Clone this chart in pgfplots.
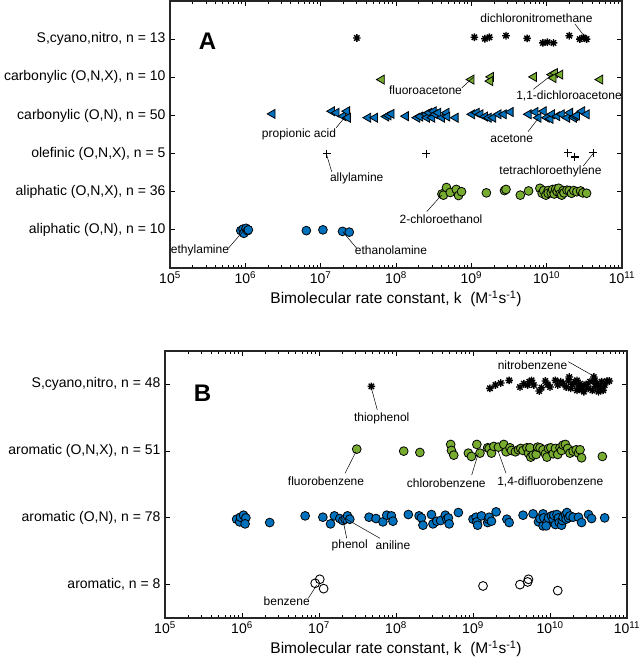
\documentclass[border=0pt]{standalone}
\usepackage{pgfplots}
\pgfplotsset{compat=1.18}
\usepackage{pgfplotstable}
\usepackage{fontspec}
\setmainfont{Liberation Sans}
\definecolor{mblue}{HTML}{0072BD}
\definecolor{mgreen}{HTML}{77AC30}
\definecolor{axgray}{HTML}{262626}

% eight-ray star like matlab's '*'
\pgfdeclareplotmark{mstar}{%
  \pgfpathmoveto{\pgfqpoint{-\pgfplotmarksize}{0pt}}\pgfpathlineto{\pgfqpoint{\pgfplotmarksize}{0pt}}%
  \pgfpathmoveto{\pgfqpoint{0pt}{-\pgfplotmarksize}}\pgfpathlineto{\pgfqpoint{0pt}{\pgfplotmarksize}}%
  \pgfpathmoveto{\pgfqpoint{-0.707\pgfplotmarksize}{-0.707\pgfplotmarksize}}\pgfpathlineto{\pgfqpoint{0.707\pgfplotmarksize}{0.707\pgfplotmarksize}}%
  \pgfpathmoveto{\pgfqpoint{-0.707\pgfplotmarksize}{0.707\pgfplotmarksize}}\pgfpathlineto{\pgfqpoint{0.707\pgfplotmarksize}{-0.707\pgfplotmarksize}}%
  \pgfusepathqstroke}

% log10(k) and category position (with jitter)
\pgfplotstableread{
lk c
7.48 6.03
9.04 6.05
9.18 6.01
9.24 6.05
9.46 6.09
9.74 6.02
9.95 5.90
10.01 5.92
10.09 5.90
10.30 6.09
10.44 6.00
10.49 6.04
10.53 6.00
}\Ascn
\pgfplotstableread{
lk c
7.81 4.94
9.00 4.94
9.26 5.01
9.25 4.90
9.83 5.01
10.07 5.07
10.11 5.11
10.09 4.98
10.18 5.07
10.71 4.94
}\Acnx
\pgfplotstableread{
lk c
6.36 4.04
7.15 4.11
7.21 4.07
7.30 3.98
7.35 4.11
7.36 3.94
7.63 3.94
7.72 3.94
7.87 3.97
7.90 4.00
7.94 4.04
8.13 3.98
8.28 3.94
8.32 3.97
8.40 4.03
8.41 3.94
8.44 4.07
8.48 3.94
8.50 4.11
8.52 4.03
8.56 4.07
8.61 3.94
8.67 4.07
8.68 3.97
8.79 3.94
9.01 4.03
9.07 4.07
9.12 4.03
9.18 3.97
9.23 3.94
9.29 3.94
9.36 4.03
9.43 4.03
9.52 4.09
9.76 4.03
9.85 4.09
9.89 3.94
9.96 4.11
10.00 3.94
10.05 3.91
10.07 4.03
10.14 3.98
10.20 4.03
10.27 3.94
10.31 4.07
10.36 3.94
10.38 3.98
10.40 4.00
10.47 4.11
10.53 4.03
}\Acn
\pgfplotstableread{
lk c
7.08 3.00
8.40 3.00
10.28 3.02
10.37 2.91
10.62 3.02
}\Aole
\pgfplotstableread{
lk c
8.61 1.94
8.63 1.91
8.67 2.11
8.72 1.98
8.80 2.06
8.83 1.90
8.87 2.00
9.20 1.97
9.44 2.03
9.46 2.06
9.65 1.91
9.76 2.02
9.91 2.09
9.94 1.96
9.96 2.03
9.99 1.91
10.02 2.03
10.02 1.96
10.06 1.97
10.08 2.06
10.10 1.94
10.12 2.07
10.14 2.00
10.16 2.09
10.18 1.94
10.20 1.91
10.22 2.03
10.23 1.97
10.27 2.04
10.30 2.03
10.33 1.96
10.36 2.03
10.40 2.00
10.45 2.02
10.48 1.97
10.53 1.96
}\Aanx
\pgfplotstableread{
lk c
5.94 0.98
5.97 1.02
5.98 0.91
6.01 1.04
6.03 0.98
6.04 1.00
6.81 0.98
7.03 1.00
7.29 0.96
7.38 0.94
}\Aan
\pgfplotstableread{
lk c
7.68 3.97
9.22 3.94
9.29 3.99
9.36 4.02
9.47 4.06
9.61 3.96
9.66 4.01
9.71 3.99
9.73 4.04
9.76 4.06
9.79 3.99
9.86 3.90
9.89 3.95
9.94 4.05
9.97 4.00
10.00 3.96
10.07 4.06
10.10 3.99
10.14 4.04
10.17 4.01
10.21 3.96
10.24 4.05
10.25 4.11
10.27 3.94
10.29 4.00
10.33 4.04
10.35 4.06
10.35 3.91
10.37 3.96
10.39 4.01
10.41 3.92
10.43 3.97
10.44 3.89
10.47 4.00
10.50 3.94
10.52 4.04
10.55 3.91
10.57 4.11
10.58 4.06
10.59 3.97
10.61 4.01
10.63 3.89
10.65 3.95
10.67 4.04
10.69 3.91
10.71 3.99
10.74 4.05
10.77 4.05
}\Bscn
\pgfplotstableread{
lk c
7.49 3.03
8.10 3.00
8.31 2.98
8.71 3.10
8.72 3.01
8.75 2.94
8.94 2.97
8.98 2.92
9.05 3.10
9.09 2.97
9.19 3.05
9.21 3.04
9.24 2.97
9.27 3.07
9.33 3.06
9.40 3.10
9.43 2.99
9.48 3.05
9.50 3.01
9.55 2.99
9.59 3.02
9.62 3.04
9.65 3.01
9.70 3.05
9.72 2.97
9.74 3.05
9.75 2.91
9.78 2.94
9.82 2.95
9.84 3.06
9.87 3.05
9.91 3.02
9.94 2.96
9.96 2.91
9.98 3.04
10.01 3.05
10.04 2.96
10.07 3.04
10.10 2.95
10.13 3.05
10.15 3.01
10.17 3.09
10.20 3.10
10.23 3.04
10.26 2.97
10.30 3.00
10.34 3.02
10.37 2.97
10.39 3.02
10.41 2.90
10.68 2.92
}\Banx
\pgfplotstableread{
lk c
5.93 1.98
5.97 1.94
5.98 2.01
6.02 2.04
6.05 2.00
6.04 1.91
6.36 1.93
6.82 2.03
7.05 2.01
7.15 1.91
7.20 2.03
7.27 1.99
7.31 1.96
7.34 1.98
7.37 2.03
7.40 1.98
7.65 2.01
7.74 1.99
7.83 1.94
7.88 2.04
7.94 2.03
7.96 1.95
8.16 2.05
8.30 2.03
8.33 2.00
8.35 1.89
8.46 2.05
8.48 1.91
8.53 1.95
8.58 1.96
8.64 2.04
8.66 1.98
8.68 2.00
8.69 1.91
8.81 2.08
9.00 1.98
9.04 2.01
9.05 1.94
9.06 1.89
9.11 2.03
9.19 1.93
9.20 1.98
9.21 2.01
9.24 1.95
9.30 2.09
9.44 1.98
9.47 1.93
9.65 2.04
9.78 2.06
9.85 1.94
9.87 1.99
9.91 2.06
9.91 1.88
9.92 2.00
9.96 1.93
9.95 1.88
9.98 2.00
10.02 2.03
10.04 1.98
10.05 2.04
10.07 1.90
10.09 2.05
10.11 2.00
10.12 1.93
10.15 1.89
10.16 1.96
10.17 2.01
10.20 2.05
10.21 1.98
10.22 2.08
10.24 2.00
10.26 2.03
10.30 2.01
10.37 2.01
10.41 1.93
10.50 2.05
10.54 1.99
10.71 2.00
}\Ban
\pgfplotstableread{
lk c
6.95 1.02
7.01 1.08
7.06 0.94
9.13 0.98
9.61 1.00
9.71 1.04
9.72 1.08
10.10 0.91
}\Baro

\begin{document}
\begin{tikzpicture}[
  ann/.style={font=\fontsize{12}{13}\selectfont, inner sep=0pt, text=black},
  lead/.style={line width=0.5pt, black},
  panel/.style={font=\fontsize{24}{24}\selectfont\bfseries, inner sep=0pt}]
\path[use as bounding box] (0,0) rectangle (641pt,671pt);

% ---- panel A ----
\begin{axis}[
  scale only axis, at={(170pt,403pt)}, anchor=south west,
  width=452pt, height=267pt,
  xmode=log, xmin=1e5, xmax=1e11,
  xtick={1e5,1e6,1e7,1e8,1e9,1e10,1e11},
  xticklabels={10\textsuperscript{5},10\textsuperscript{6},10\textsuperscript{7},10\textsuperscript{8},10\textsuperscript{9},10\textsuperscript{10},10\textsuperscript{11}},
  ymin=0, ymax=7, ytick={1,2,3,4,5,6},
  yticklabels={{aliphatic (O,N), n = 10},{aliphatic (O,N,X), n = 36},{olefinic (O,N,X), n = 5},{carbonylic (O,N), n = 50},{carbonylic (O,N,X), n = 10},{S,cyano,nitro, n = 13}},
  axis line style={axgray, line width=1.6pt},
  tick style={black, line width=0.8pt},
  major tick length=5pt, minor tick length=3pt, tick align=inside,
  ticklabel style={font=\fontsize{14}{15}\selectfont},
  yticklabel style={xshift=-1pt},
  xlabel={Bimolecular rate constant, k\ \ (M\textsuperscript{-1}s\textsuperscript{-1})},
  xlabel style={font=\fontsize{15.5}{16}\selectfont},
  clip=false]
  \addplot[only marks, black, mark=*, mark size=4.4pt, mark options={fill=mblue, line width=0.8pt}] table[x expr=10^\thisrow{lk}, y=c]{\Aan};
  \addplot[only marks, black, mark=*, mark size=4.4pt, mark options={fill=mgreen, line width=0.8pt}] table[x expr=10^\thisrow{lk}, y=c]{\Aanx};
  \addplot[only marks, black, mark=+, mark size=4pt, mark options={line width=1.1pt}] table[x expr=10^\thisrow{lk}, y=c]{\Aole};
  \addplot[only marks, black, mark=triangle*, mark size=5.2pt, mark options={rotate=90, fill=mblue, line width=0.8pt}] table[x expr=10^\thisrow{lk}, y=c]{\Acn};
  \addplot[only marks, black, mark=triangle*, mark size=5.2pt, mark options={rotate=90, fill=mgreen, line width=0.8pt}] table[x expr=10^\thisrow{lk}, y=c]{\Acnx};
  \addplot[only marks, black, mark=mstar, mark size=3.8pt, mark options={line width=1.4pt}] table[x expr=10^\thisrow{lk}, y=c]{\Ascn};
\end{axis}
\node[panel] at (207.5pt,629.5pt) {A};
\node[ann] at (536.5pt,653pt) {dichloronitromethane};
\draw[lead] (575pt,647pt) -- (585pt,634pt);
\node[ann] at (425.5pt,580.3pt) {fluoroacetone};
\draw[lead] (461.7pt,583pt) -- (473.3pt,593.7pt);
\node[ann] at (569pt,575.3pt) {1,1-dichloroacetone};
\draw[lead] (533.3pt,581.7pt) -- (551.7pt,596pt);
\node[ann] at (299pt,537pt) {propionic acid};
\draw[lead] (336pt,543pt) -- (345pt,554pt);
\node[ann] at (511.7pt,532.7pt) {acetone};
\draw[lead] (528pt,539.3pt) -- (538.3pt,552.7pt);
\node[ann] at (356.7pt,492.7pt) {allylamine};
\draw[lead] (331.7pt,499.3pt) -- (326.7pt,516pt);
\node[ann] at (550.5pt,499.3pt) {tetrachloroethylene};
\draw[lead] (583.3pt,505pt) -- (593.3pt,517.7pt);
\node[ann] at (441pt,451.7pt) {2-chloroethanol};
\draw[lead] (426.7pt,459.3pt) -- (441.7pt,476pt);
\node[ann] at (200pt,421pt) {ethylamine};
\draw[lead] (228.3pt,422.7pt) -- (242.7pt,439.3pt);
\node[ann] at (391pt,420.3pt) {ethanolamine};
\draw[lead] (356.7pt,422.7pt) -- (342.7pt,439.3pt);

% ---- panel B ----
\begin{axis}[
  scale only axis, at={(165pt,53pt)}, anchor=south west,
  width=462pt, height=267pt,
  xmode=log, xmin=1e5, xmax=1e11,
  xtick={1e5,1e6,1e7,1e8,1e9,1e10,1e11},
  xticklabels={10\textsuperscript{5},10\textsuperscript{6},10\textsuperscript{7},10\textsuperscript{8},10\textsuperscript{9},10\textsuperscript{10},10\textsuperscript{11}},
  ymin=0.5, ymax=4.5, ytick={1,2,3,4},
  yticklabels={{aromatic, n = 8},{aromatic (O,N), n = 78},{aromatic (O,N,X), n = 51},{S,cyano,nitro, n = 48}},
  axis line style={axgray, line width=1.6pt},
  tick style={black, line width=0.8pt},
  major tick length=5pt, minor tick length=3pt, tick align=inside,
  ticklabel style={font=\fontsize{14}{15}\selectfont},
  yticklabel style={xshift=-1pt},
  xlabel={Bimolecular rate constant, k\ \ (M\textsuperscript{-1}s\textsuperscript{-1})},
  xlabel style={font=\fontsize{15.5}{16}\selectfont},
  clip=false]
  \addplot[only marks, black, mark=o, mark size=4.4pt, mark options={line width=0.9pt}] table[x expr=10^\thisrow{lk}, y=c]{\Baro};
  \addplot[only marks, black, mark=*, mark size=4.4pt, mark options={fill=mblue, line width=0.8pt}] table[x expr=10^\thisrow{lk}, y=c]{\Ban};
  \addplot[only marks, black, mark=*, mark size=4.4pt, mark options={fill=mgreen, line width=0.8pt}] table[x expr=10^\thisrow{lk}, y=c]{\Banx};
  \addplot[only marks, black, mark=mstar, mark size=3.8pt, mark options={line width=1.4pt}] table[x expr=10^\thisrow{lk}, y=c]{\Bscn};
\end{axis}
\node[panel] at (202.5pt,277.5pt) {B};
\node[ann] at (381.7pt,252.7pt) {thiophenol};
\draw[lead] (377.3pt,261pt) -- (371pt,284.3pt);
\node[ann] at (532.5pt,306pt) {nitrobenzene};
\draw[lead] (568.3pt,309.3pt) -- (591.7pt,296pt);
\node[ann] at (326pt,189.3pt) {fluorobenzene};
\draw[lead] (345pt,197.7pt) -- (356pt,219.3pt);
\node[ann] at (446.3pt,187.7pt) {chlorobenzene};
\draw[lead] (471.7pt,196pt) -- (478.3pt,217.7pt);
\node[ann] at (550.3pt,189.3pt) {1,4-difluorobenzene};
\draw[lead] (506pt,197.7pt) -- (498.3pt,219.3pt);
\node[ann] at (349.7pt,125.3pt) {phenol};
\draw[lead] (346.7pt,132.7pt) -- (342.7pt,152.7pt);
\node[ann] at (393pt,125.3pt) {aniline};
\draw[lead] (380pt,132.7pt) -- (345pt,152.7pt);
\node[ann] at (286.7pt,69.3pt) {benzene};
\draw[lead] (308.3pt,72.7pt) -- (316.7pt,86pt);
\end{tikzpicture}
\end{document}
